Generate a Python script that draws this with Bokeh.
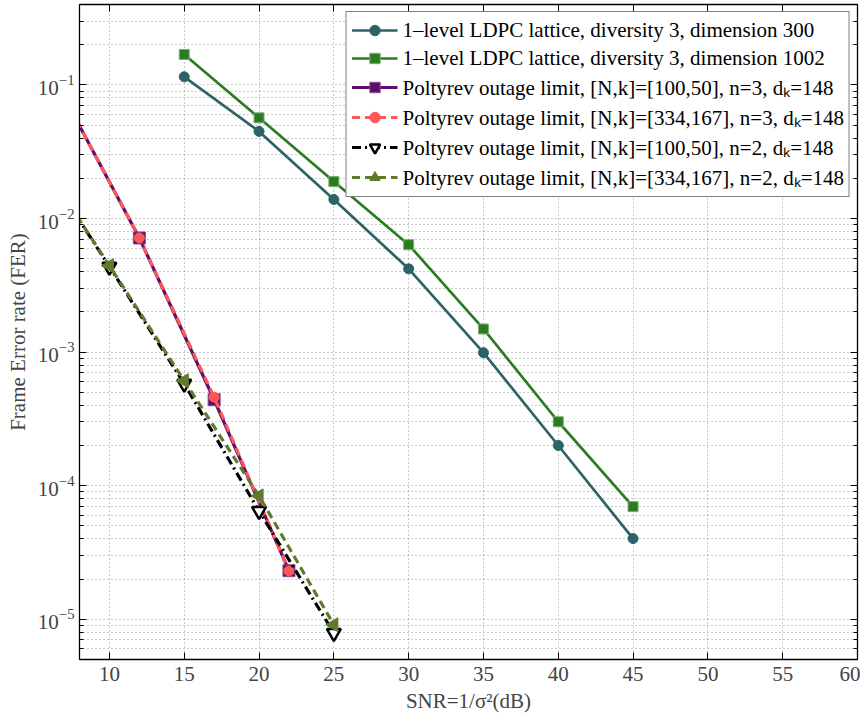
import math
from bokeh.plotting import figure
from bokeh.models import (FixedTicker, LinearAxis, LogAxis, Legend, LegendItem,
                          Range1d, LogTickFormatter)
from bokeh.embed import file_html
from bokeh.resources import INLINE

# ---------------- data ----------------
snr_ldpc = [15, 20, 25, 30, 35, 40, 45]
fer_dim300 = [0.115, 0.0449, 0.0139, 0.0042, 0.00099, 0.0002, 0.0000402]
fer_dim1002 = [0.169, 0.0567, 0.0189, 0.00637, 0.00149, 0.000301, 0.0000697]

snr_n3 = [7, 12, 17, 22]
fer_n3_100 = [0.080, 0.00715, 0.00044, 0.0000231]
fer_n3_334 = [0.080, 0.00715, 0.00046, 0.0000230]

snr_n2 = [5, 10, 15, 20, 25]
fer_n2_100 = [0.032, 0.00436, 0.00058, 0.0000647, 0.0000079]
fer_n2_334 = [0.032, 0.00443, 0.00061, 0.0000839, 0.0000091]

x_ticks = [10, 15, 20, 25, 30, 35, 40, 45, 50, 55, 60]
y_ticks = [1e-5, 1e-4, 1e-3, 1e-2, 1e-1]
y_minor = [m * 10.0 ** e for e in range(-6, 0) for m in range(2, 10)]

series_labels = [
    "1\u2013level LDPC lattice, diversity 3, dimension 300",
    "1\u2013level LDPC lattice, diversity 3, dimension 1002",
    "Poltyrev outage limit, [N,k]=[100,50], n=3, d\u2096=148",
    "Poltyrev outage limit, [N,k]=[334,167], n=3, d\u2096=148",
    "Poltyrev outage limit, [N,k]=[100,50], n=2, d\u2096=148",
    "Poltyrev outage limit, [N,k]=[334,167], n=2, d\u2096=148",
]
x_label = "SNR=1/\u03c3\u00b2(dB)"
y_label = "Frame Error rate (FER)"

FONT = "Liberation Serif"
FS = "21px"

# ---------------- figure ----------------
p = figure(width=860, height=716,
           x_range=Range1d(8, 60), y_range=Range1d(5e-6, 0.4),
           y_axis_type="log",
           output_backend="svg", toolbar_location=None,
           min_border_left=79, min_border_right=3,
           min_border_top=4, min_border_bottom=57,
           background_fill_color="white", border_fill_color="white")
p.outline_line_color = "black"
p.outline_line_width = 1.3

xt = FixedTicker(ticks=x_ticks, minor_ticks=[])
yt = FixedTicker(ticks=y_ticks, minor_ticks=y_minor)

xa = p.xaxis[0]
xa.ticker = xt
xa.axis_label = x_label
xa.axis_label_text_font = FONT
xa.axis_label_text_font_size = FS
xa.axis_label_text_font_style = "normal"
xa.axis_label_standoff = 5
xa.major_label_text_font = FONT
xa.major_label_text_font_size = FS
xa.major_label_standoff = 7
xa.major_tick_in = 7
xa.major_tick_out = 0
xa.minor_tick_in = 0
xa.minor_tick_out = 0
xa.axis_line_color = "black"

ya = p.yaxis[0]
ya.ticker = yt
ya.formatter = LogTickFormatter()
ya.axis_label = y_label
ya.axis_label_text_font = FONT
ya.axis_label_text_font_size = FS
ya.axis_label_text_font_style = "normal"
ya.axis_label_standoff = 5
ya.major_label_text_font = FONT
ya.major_label_text_font_size = FS
ya.major_label_standoff = 5
ya.major_tick_in = 7
ya.major_tick_out = 0
ya.minor_tick_in = 4
ya.minor_tick_out = 0
ya.axis_line_color = "black"

top_axis = LinearAxis(ticker=xt, major_label_text_color=None, major_label_standoff=0,
                      major_tick_in=7, major_tick_out=0, minor_tick_in=0, minor_tick_out=0,
                      axis_line_color="black")
p.add_layout(top_axis, "above")
right_axis = LogAxis(ticker=yt, formatter=LogTickFormatter(),
                     major_label_text_color=None, major_label_standoff=0,
                     major_tick_in=7, major_tick_out=0, minor_tick_in=4, minor_tick_out=0,
                     axis_line_color="black")
p.add_layout(right_axis, "right")

for g in (p.xgrid[0], p.ygrid[0]):
    g.grid_line_color = "black"
    g.grid_line_alpha = 0.42
    g.grid_line_dash = "1 3"
    g.grid_line_width = 1
p.ygrid[0].minor_grid_line_color = "black"
p.ygrid[0].minor_grid_line_alpha = 0.42
p.ygrid[0].minor_grid_line_dash = "1 3"
p.ygrid[0].minor_grid_line_width = 1

# ---------------- series ----------------
TEAL = "#2D6366"
GREEN = "#2B7B23"
PURPLE = "#5C0E6C"
RED = "#FF5757"
OLIVE = "#5E7A2C"

items = []

l1 = p.line(snr_ldpc, fer_dim300, line_color=TEAL, line_width=2.7)
m1 = p.scatter(snr_ldpc, fer_dim300, marker="circle", size=10,
               fill_color=TEAL, line_color=TEAL)
items.append(LegendItem(label=series_labels[0], renderers=[l1, m1]))

l2 = p.line(snr_ldpc, fer_dim1002, line_color=GREEN, line_width=2.7)
m2 = p.scatter(snr_ldpc, fer_dim1002, marker="square", size=10,
               fill_color=GREEN, line_color="#7DAE72", line_width=1)
items.append(LegendItem(label=series_labels[1], renderers=[l2, m2]))

l3 = p.line(snr_n3, fer_n3_100, line_color=PURPLE, line_width=3.2)
m3 = p.scatter(snr_n3, fer_n3_100, marker="square", size=12,
               fill_color=PURPLE, line_color="#8A4E96", line_width=1)
items.append(LegendItem(label=series_labels[2], renderers=[l3, m3]))

l4 = p.line(snr_n3, fer_n3_334, line_color=RED, line_width=3.2, line_dash="8 5")
m4 = p.scatter(snr_n3, fer_n3_334, marker="circle", size=10,
               fill_color=RED, line_color=RED)
items.append(LegendItem(label=series_labels[3], renderers=[l4, m4]))

l5 = p.line(snr_n2, fer_n2_100, line_color="black", line_width=3.2, line_dash="9 4 2 4")
m5 = p.scatter(snr_n2, fer_n2_100, marker="inverted_triangle", size=14,
               fill_color="white", line_color="black", line_width=2.5)
items.append(LegendItem(label=series_labels[4], renderers=[l5, m5]))

l6 = p.line(snr_n2, fer_n2_334, line_color=OLIVE, line_width=3.2, line_dash="8 5")
m6 = p.scatter(snr_n2, fer_n2_334, marker="triangle", size=14, angle=math.pi / 2,
               fill_color=OLIVE, line_color=OLIVE, line_width=1)
items.append(LegendItem(label=series_labels[5], renderers=[l6, m6]))

legend = Legend(items=items, location="top_right", margin=7, padding=5, spacing=2,
                label_height=26, glyph_height=26, glyph_width=46, label_standoff=5,
                label_text_font=FONT, label_text_font_size=FS, label_text_color="black",
                border_line_color="black", border_line_width=1.3,
                background_fill_color="white", background_fill_alpha=1.0)
p.add_layout(legend)

open("out.html", "w").write(file_html(p, INLINE))
